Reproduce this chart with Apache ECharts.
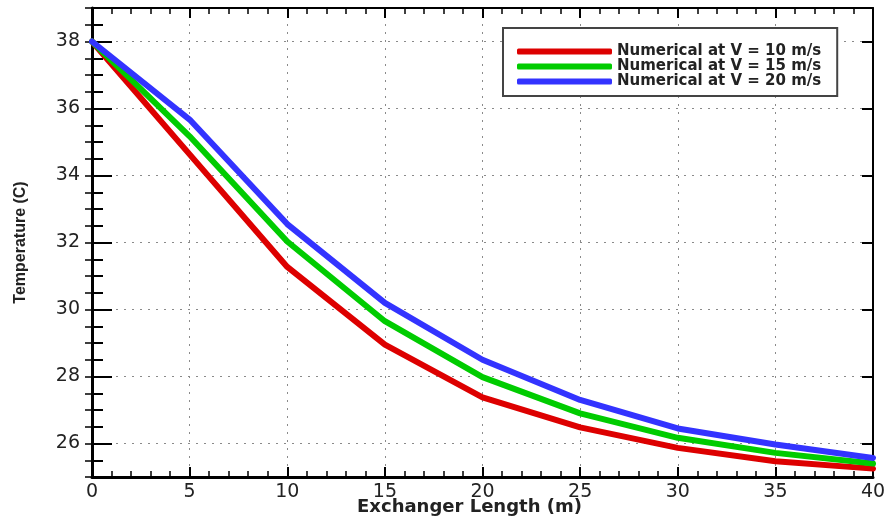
<!DOCTYPE html>
<html>
<head>
<meta charset="utf-8">
<script src="https://cdn.jsdelivr.net/npm/echarts@6/dist/echarts.min.js"></script>
<style>
  html, body { margin: 0; padding: 0; background: #fff; }
  #chart { width: 888px; height: 519px; }
</style>
</head>
<body>
<div id="chart"></div>
<script>
// data
const lengths = [0, 5, 10, 15, 20, 25, 30, 35, 40];
const tempV10 = [38.0, 34.63, 31.27, 28.95, 27.38, 26.48, 25.87, 25.47, 25.25];
const tempV15 = [38.0, 35.17, 32.03, 29.65, 27.98, 26.9, 26.17, 25.72, 25.4];
const tempV20 = [38.0, 35.67, 32.55, 30.2, 28.5, 27.3, 26.45, 25.97, 25.57];
const yTickLabels = [26, 28, 30, 32, 34, 36, 38];
const seriesNames = ['Numerical at V = 10 m/s', 'Numerical at V = 15 m/s', 'Numerical at V = 20 m/s'];

const colors = ['#dd0000', '#00cc00', '#3333ff'];

const pairs = (ys) => lengths.map((x, i) => [x, ys[i]]);

const dotted = { color: '#8a8a8a', width: 1, type: [2, 6] };
const blackLine = { show: true, onZero: false, lineStyle: { color: '#000', width: 3 } };

const chartDom = document.getElementById('chart');
const myChart = echarts.init(chartDom);

const option = {
  animation: false,
  color: colors,
  grid: { left: 92, right: 15, top: 8, bottom: 42, containLabel: false, outerBoundsMode: 'none' },
  legend: {
    orient: 'vertical',
    left: 503,
    top: 28,
    padding: [16, 16, 7, 14],
    itemGap: 0,
    itemWidth: 95,
    itemHeight: 6,
    icon: 'roundRect',
    borderColor: '#444',
    borderWidth: 2,
    backgroundColor: '#fff',
    textStyle: { fontFamily: 'DejaVu Sans', fontWeight: 'bold', fontSize: 15, color: '#222', lineHeight: 15 },
    data: seriesNames
  },
  xAxis: [
    {
      type: 'value', position: 'bottom', min: 0, max: 40, interval: 5,
      axisLine: blackLine,
      axisTick: { show: true, inside: true, length: 10, lineStyle: { color: '#000', width: 2 } },
      minorTick: { show: true, splitNumber: 5, length: 6, lineStyle: { color: '#000', width: 1.5 } },
      axisLabel: { fontFamily: 'DejaVu Sans', fontSize: 19, color: '#222', margin: 6 },
      splitLine: { show: true, lineStyle: dotted },
      name: 'Exchanger Length (m)',
      nameLocation: 'middle',
      nameGap: 21,
      nameMoveOverlap: false,
      nameTextStyle: { fontFamily: 'DejaVu Sans', fontWeight: 'bold', fontSize: 18, color: '#222', padding: [0, 26, 0, 0] }
    },
    {
      type: 'value', position: 'top', min: 0, max: 40, interval: 5,
      axisLine: { show: true, onZero: false, lineStyle: { color: '#000', width: 2 } },
      axisTick: { show: true, inside: true, length: 10, lineStyle: { color: '#000', width: 2 } },
      minorTick: { show: true, splitNumber: 5, length: 6, lineStyle: { color: '#000', width: 1.5 } },
      axisLabel: { show: false },
      splitLine: { show: false }
    }
  ],
  yAxis: [
    {
      type: 'value', position: 'left', min: 25, max: 39, interval: 1,
      axisLine: blackLine,
      axisTick: { show: true, inside: true, length: 20, customValues: yTickLabels, lineStyle: { color: '#000', width: 2 } },
      axisLabel: { customValues: yTickLabels, fontFamily: 'DejaVu Sans', fontSize: 19, color: '#222', margin: 12 },
      splitLine: { show: true, lineStyle: dotted },
      name: 'Temperature (C)',
      nameLocation: 'middle',
      nameGap: 63,
      nameMoveOverlap: false,
      nameTextStyle: { fontFamily: 'Liberation Sans', fontWeight: 'bold', fontSize: 16, color: '#222' }
    },
    {
      type: 'value', position: 'left', min: 25, max: 39, interval: 0.5,
      axisLine: { show: false },
      axisTick: { show: true, inside: true, length: 11, lineStyle: { color: '#000', width: 2 } },
      axisLabel: { show: false },
      splitLine: { show: false }
    },
    {
      type: 'value', position: 'right', min: 25, max: 39, interval: 1,
      axisLine: { show: true, onZero: false, lineStyle: { color: '#000', width: 2 } },
      axisTick: { show: true, inside: true, length: 11, customValues: yTickLabels, lineStyle: { color: '#000', width: 2 } },
      axisLabel: { show: false },
      splitLine: { show: false }
    },
    {
      type: 'value', position: 'right', min: 25, max: 39, interval: 0.5,
      axisLine: { show: false },
      axisTick: { show: true, inside: true, length: 7, lineStyle: { color: '#000', width: 1.5 } },
      axisLabel: { show: false },
      splitLine: { show: false }
    }
  ],
  series: [tempV10, tempV15, tempV20].map((ys, i) => ({
    name: seriesNames[i],
    type: 'line',
    xAxisIndex: 0,
    yAxisIndex: 0,
    data: pairs(ys),
    showSymbol: false,
    symbol: 'none',
    lineStyle: { width: 6, color: colors[i], cap: 'round', join: 'round' }
  }))
};

myChart.setOption(option);
</script>
</body>
</html>
